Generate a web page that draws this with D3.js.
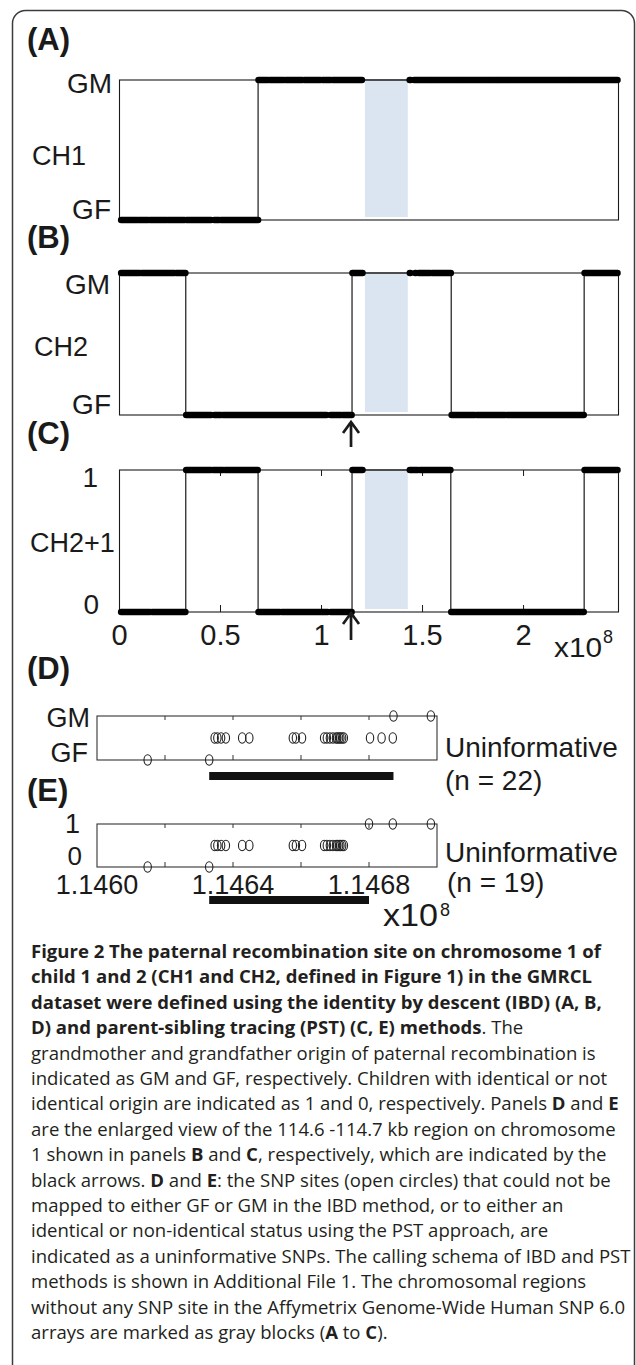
<!DOCTYPE html>
<html><head><meta charset="utf-8">
<script src="https://cdn.jsdelivr.net/npm/d3@7"></script>
<style>body{margin:0;background:#fff}svg{display:block}</style>
</head><body>
<svg id="c" width="636" height="1365"></svg>
<script>
// ---------------- DATA ----------------
const mainTicks = [0, 0.5, 1, 1.5, 2];
const mainTickLabels = ["0", "0.5", "1", "1.5", "2"];
const chromRange = [0, 2.47];            // x10^8 bp
const gapRegion = [1.215, 1.427];        // region without SNPs (gray block)
const arrowPos = 1.146;                  // 114.6 Mb

// state segments [start, end, state]  (1 = GM / identical, 0 = GF / non-identical)
const stepsA = [[0, 0.686, 0], [0.686, 2.468, 1]];
const stepsB = [[0, 0.328, 1], [0.328, 1.151, 0], [1.151, 1.642, 1], [1.642, 2.300, 0], [2.300, 2.468, 1]];
const stepsC = [[0, 0.328, 0], [0.328, 0.686, 1], [0.686, 1.151, 0], [1.151, 1.640, 1], [1.640, 2.300, 0], [2.300, 2.468, 1]];

// runs of informative SNP markers [start, end, state]
const runsA = [[0.008,0.087,0],[0.095,0.142,0],[0.151,0.232,0],[0.240,0.322,0],[0.332,0.453,0],[0.469,0.493,0],[0.503,0.686,0],
  [0.688,0.734,1],[0.744,0.814,1],[0.824,0.905,1],[0.915,0.995,1],[1.005,1.045,1],[1.055,1.200,1],
  [1.436,1.441,1],[1.458,1.509,1],[1.516,1.544,1],[1.550,1.683,1],[1.689,1.831,1],[1.837,1.871,1],[1.877,1.915,1],[1.921,2.227,1],[2.233,2.465,1]];
const runsB = [[0.008,0.101,1],[0.111,0.272,1],[0.282,0.326,1],
  [0.330,0.453,0],[0.469,0.503,0],[0.513,1.025,0],[1.045,1.095,0],[1.105,1.149,0],
  [1.153,1.203,1],[1.437,1.440,1],[1.464,1.467,1],[1.481,1.537,1],[1.547,1.640,1],
  [1.644,1.758,0],[1.768,1.909,0],[1.919,2.298,0],[2.302,2.465,1]];
const runsC = [[0.008,0.151,0],[0.161,0.326,0],
  [0.330,0.453,1],[0.463,0.513,1],[0.523,0.684,1],
  [0.688,0.794,0],[0.804,1.031,0],[1.045,1.149,0],
  [1.153,1.203,1],[1.437,1.477,1],[1.487,1.638,1],
  [1.642,1.745,0],[1.752,2.298,0],[2.302,2.465,1]];

// enlarged region (panels D, E), x10^8 bp
const zoomRange = [1.1460, 1.1470];
const zoomTickMarks = [1.1462, 1.1464, 1.1466, 1.1468];
const zoomTickLabels = ["1.1460", "1.1464", "1.1468"];
const zoomTickLabelValues = [1.1460, 1.1464, 1.1468];
const sharedUninformative = [1.146346,1.146354,1.146365,1.146379,1.146427,1.146448,1.146576,1.146585,1.146603,
  1.146668,1.146676,1.146685,1.146694,1.146703,1.146707,1.146712,1.146716,1.146721,1.146726];
const snpD_GM = [1.146872, 1.146982];
const snpD_GF = [1.146149, 1.146330];
const snpD_U = sharedUninformative.concat([1.146803, 1.146837, 1.146870]);
const snpE_1 = [1.146800, 1.146870, 1.146982];
const snpE_0 = [1.146149, 1.146330];
const snpE_U = sharedUninformative.slice();
const barD = [1.146330, 1.146872];
const barE = [1.146330, 1.146800];

const captionLines = [
  [["Figure 2 The paternal recombination site on chromosome 1 of", 1]],
  [["child 1 and 2 (CH1 and CH2, defined in Figure 1) in the GMRCL", 1]],
  [["dataset were defined using the identity by descent (IBD) (A, B,", 1]],
  [["D) and parent-sibling tracing (PST) (C, E) methods", 1], [". The", 0]],
  [["grandmother and grandfather origin of paternal recombination is", 0]],
  [["indicated as GM and GF, respectively. Children with identical or not", 0]],
  [["identical origin are indicated as 1 and 0, respectively. Panels ", 0], ["D", 1], [" and ", 0], ["E", 1]],
  [["are the enlarged view of the 114.6 -114.7 kb region on chromosome", 0]],
  [["1 shown in panels ", 0], ["B", 1], [" and ", 0], ["C", 1], [", respectively, which are indicated by the", 0]],
  [["black arrows. ", 0], ["D", 1], [" and ", 0], ["E", 1], [": the SNP sites (open circles) that could not be", 0]],
  [["mapped to either GF or GM in the IBD method, or to either an", 0]],
  [["identical or non-identical status using the PST approach, are", 0]],
  [["indicated as a uninformative SNPs. The calling schema of IBD and PST", 0]],
  [["methods is shown in Additional File 1. The chromosomal regions", 0]],
  [["without any SNP site in the Affymetrix Genome-Wide Human SNP 6.0", 0]],
  [["arrays are marked as gray blocks (", 0], ["A", 1], [" to ", 0], ["C", 1], [").", 0]]
];

// ---------------- DRAWING ----------------
const svg = d3.select("#c");
const FONT = "'Liberation Sans', Arial, Helvetica, sans-serif";
const INK = "#1a1a1a";

svg.append("rect").attr("x", 12.5).attr("y", 10.5).attr("width", 622).attr("height", 1420)
  .attr("rx", 13).attr("fill", "none").attr("stroke", "#3c3c3c").attr("stroke-width", 1.5);

const x = d3.scaleLinear().domain(chromRange).range([119.5, 618.5]);

function label(txt, px, py, opt = {}) {
  const t = svg.append("text").attr("x", px).attr("y", py).text(txt)
    .attr("font-family", FONT).attr("font-size", opt.size || 27)
    .attr("font-weight", opt.bold ? "bold" : "normal")
    .attr("text-anchor", opt.anchor || "start").attr("fill", INK);
  if (opt.len) t.attr("textLength", opt.len).attr("lengthAdjust", "spacingAndGlyphs");
  return t;
}

function drawMain(p) {
  const y = d3.scaleLinear().domain([0, 1]).range([p.bottom, p.top]);
  const g = svg.append("g");
  g.append("rect").attr("x", x(gapRegion[0])).attr("y", p.top + 1)
    .attr("width", x(gapRegion[1]) - x(gapRegion[0])).attr("height", p.bottom - p.top - 4)
    .attr("fill", "#dbe5f1");
  g.append("rect").attr("x", x(chromRange[0])).attr("y", p.top)
    .attr("width", x(chromRange[1]) - x(chromRange[0])).attr("height", p.bottom - p.top)
    .attr("fill", "none").attr("stroke", INK).attr("stroke-width", 1.1);
  if (p.ticks) {
    const tv = mainTicks.filter(v => v > 0);
    g.selectAll(".tb").data(tv).join("line").attr("x1", d => x(d)).attr("x2", d => x(d))
      .attr("y1", p.bottom).attr("y2", p.bottom - 7).attr("stroke", INK).attr("stroke-width", 1);
    g.selectAll(".tt").data(tv).join("line").attr("x1", d => x(d)).attr("x2", d => x(d))
      .attr("y1", p.top).attr("y2", p.top + 6).attr("stroke", INK).attr("stroke-width", 1);
  }
  const pts = [];
  p.steps.forEach(s => { pts.push([s[0], s[2]]); pts.push([s[1], s[2]]); });
  g.append("path").attr("d", d3.line().x(d => x(d[0])).y(d => y(d[1]))(pts))
    .attr("fill", "none").attr("stroke", INK).attr("stroke-width", 1.2);
  g.selectAll(".run").data(p.runs).join("line")
    .attr("x1", d => x(d[0])).attr("x2", d => x(d[1]))
    .attr("y1", d => y(d[2])).attr("y2", d => y(d[2]))
    .attr("stroke", "#000").attr("stroke-width", 6.5).attr("stroke-linecap", "round");
}

function drawArrow(yTip, yTail) {
  const px = x(arrowPos);
  svg.append("path")
    .attr("d", `M${px},${yTail}V${yTip + 1}M${px - 8},${yTip + 11}L${px},${yTip}L${px + 8},${yTip + 11}`)
    .attr("fill", "none").attr("stroke", INK).attr("stroke-width", 2.7).attr("stroke-linejoin", "miter");
}

// Panel A
label("(A)", 27, 50, {size: 31, bold: true});
drawMain({top: 80, bottom: 220, steps: stepsA, runs: runsA});
label("GM", 112, 93, {anchor: "end", size: 28});
label("CH1", 32, 165);
label("GF", 111, 219, {anchor: "end", size: 28});

// Panel B
label("(B)", 27, 248, {size: 31, bold: true});
drawMain({top: 273, bottom: 415, steps: stepsB, runs: runsB});
label("GM", 110, 294, {anchor: "end", size: 28});
label("CH2", 34, 356);
label("GF", 111, 414, {anchor: "end", size: 28});
drawArrow(422, 447);

// Panel C
label("(C)", 27, 444, {size: 31, bold: true});
drawMain({top: 470, bottom: 612, steps: stepsC, runs: runsC, ticks: true});
label("1", 98, 487, {anchor: "end", size: 28});
label("CH2+1", 30, 552);
label("0", 99, 614, {anchor: "end", size: 28});
drawArrow(613, 640);
svg.selectAll(".mtl").data(mainTicks).join("text")
  .attr("x", d => x(d)).attr("y", 645).attr("text-anchor", "middle")
  .attr("font-family", FONT).attr("font-size", 29).attr("fill", INK)
  .text((d, i) => mainTickLabels[i]);
label("x10", 554, 657, {size: 28, len: 48});
label("8", 603, 643, {size: 18});

// Panels D and E
const xz = d3.scaleLinear().domain(zoomRange).range([97, 437]);
function drawZoom(p) {
  const y = d3.scaleLinear().domain([0, 1]).range([p.bottom, p.top]);
  const g = svg.append("g");
  g.append("rect").attr("x", xz(zoomRange[0])).attr("y", p.top)
    .attr("width", xz(zoomRange[1]) - xz(zoomRange[0])).attr("height", p.bottom - p.top)
    .attr("fill", "none").attr("stroke", "#333").attr("stroke-width", 1.1);
  g.selectAll(".tb").data(zoomTickMarks).join("line").attr("x1", d => xz(d)).attr("x2", d => xz(d))
    .attr("y1", p.bottom).attr("y2", p.bottom - 5).attr("stroke", "#333");
  g.selectAll(".tt").data(zoomTickMarks).join("line").attr("x1", d => xz(d)).attr("x2", d => xz(d))
    .attr("y1", p.top).attr("y2", p.top + 4).attr("stroke", "#333");
  const pts = [].concat(p.hi.map(v => [v, 1]), p.lo.map(v => [v, 0]), p.mid.map(v => [v, 0.5]));
  g.selectAll(".snp").data(pts).join("ellipse")
    .attr("cx", d => xz(d[0])).attr("cy", d => y(d[1])).attr("rx", 3.7).attr("ry", 5.2)
    .attr("fill", "none").attr("stroke", "#222").attr("stroke-width", 1.1);
  g.append("rect").attr("x", xz(p.bar[0])).attr("y", p.barY - 4)
    .attr("width", xz(p.bar[1]) - xz(p.bar[0])).attr("height", 8).attr("fill", "#111");
}

label("(D)", 27, 679, {size: 31, bold: true});
drawZoom({top: 716, bottom: 760, hi: snpD_GM, lo: snpD_GF, mid: snpD_U, bar: barD, barY: 776});
label("GM", 90, 727, {anchor: "end"});
label("GF", 88, 762, {anchor: "end"});
label("Uninformative", 445, 757, {size: 28});
label(`(n = ${snpD_U.length})`, 445, 790, {size: 28});

label("(E)", 27, 801, {size: 31, bold: true});
drawZoom({top: 824, bottom: 867, hi: snpE_1, lo: snpE_0, mid: snpE_U, bar: barE, barY: 900});
label("1", 80, 833, {anchor: "end"});
label("0", 82, 865, {anchor: "end", size: 26});
label("Uninformative", 445, 862, {size: 28});
label(`(n = ${snpE_U.length})`, 447, 892, {size: 28});
svg.selectAll(".ztl").data(zoomTickLabelValues).join("text")
  .attr("x", d => xz(d)).attr("y", 894).attr("text-anchor", "middle")
  .attr("font-family", FONT).attr("font-size", 27).attr("fill", INK)
  .text((d, i) => zoomTickLabels[i]);
label("x10", 383, 926, {size: 31, len: 55});
label("8", 440, 916, {size: 18});

// Caption
const cap = svg.append("g").attr("transform", "translate(31,0)");
const capT = cap.selectAll("text").data(captionLines).join("text")
  .attr("x", 0).attr("y", (d, i) => 958 + i * 25.4)
  .attr("font-family", "'Open Sans', 'Noto Sans', sans-serif").attr("font-size", 18.5).attr("fill", "#231f20");
capT.each(function(segs) {
  const t = d3.select(this);
  segs.forEach(s => t.append("tspan").text(s[0]).attr("font-weight", s[1] ? 700 : 400));
});
// condense to match the narrow caption face: line 5 spans ~565px in the reference
const ref = capT.nodes()[4].getComputedTextLength();
const k = 565 / ref;
cap.attr("transform", `translate(31,0) scale(${k},1)`);
</script>
</body></html>
